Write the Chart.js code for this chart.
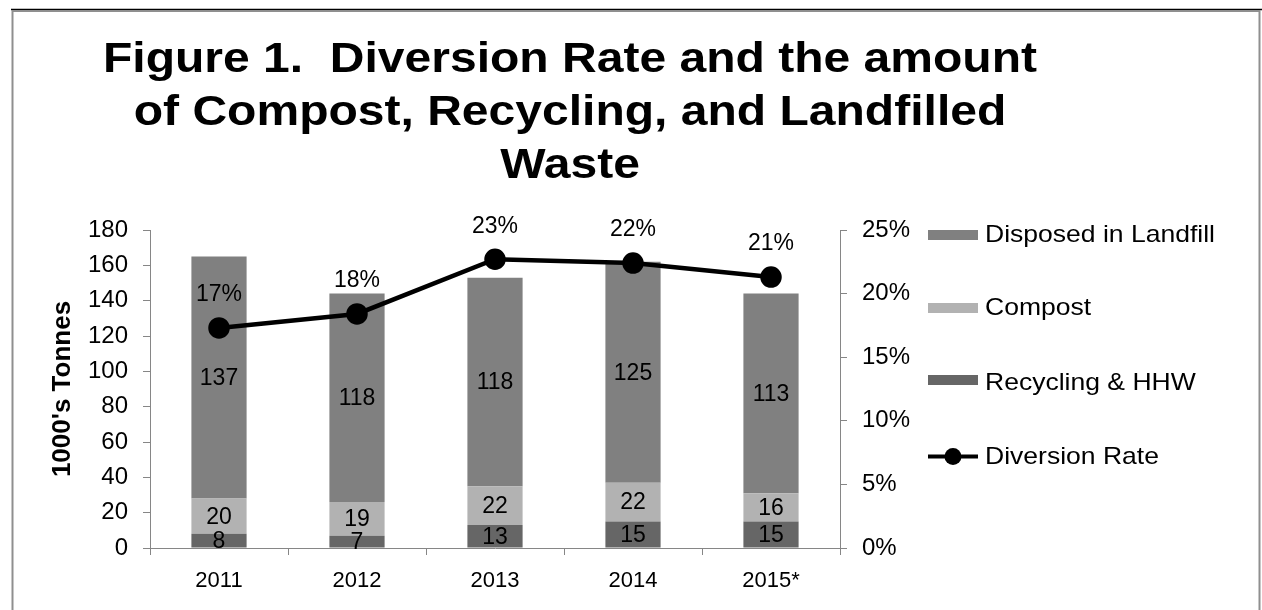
<!DOCTYPE html>
<html>
<head>
<meta charset="utf-8">
<script src="https://cdn.jsdelivr.net/npm/chart.js@4"></script>
<style>
    html, body { margin: 0; padding: 0; background: #fff; }
    #wrap { width: 1262px; height: 610px; position: relative; }
</style>
</head>
<body>
<div id="wrap"><canvas id="wasteChart" width="1262" height="610"></canvas></div>
<script>
// data
const years = ['2011', '2012', '2013', '2014', '2015*'];
const recycling = [8, 7, 13, 15, 15];
const compost = [20, 19, 22, 22, 16];
const landfill = [137, 118, 118, 125, 113];
const diversionRate = [17.3, 18.4, 22.7, 22.4, 21.3];
const tonnesTicks = [0, 20, 40, 60, 80, 100, 120, 140, 160, 180];
const percentTicks = [0, 5, 10, 15, 20, 25];

const titleLines = [
    'Figure 1.  Diversion Rate and the amount',
    'of Compost, Recycling, and Landfilled',
    'Waste'
];

const FONT = '"Liberation Sans", Arial, sans-serif';
const axisGray = '#868686';

// draw text squeezed/stretched horizontally around its anchor
function stretchedText(ctx, text, x, y, sx, align) {
    ctx.save();
    ctx.translate(x, y);
    ctx.scale(sx, 1);
    ctx.textAlign = align;
    ctx.fillText(text, 0, 0);
    ctx.restore();
}

// frame, title, data labels, legend
const decorPlugin = {
    id: 'decor',
    beforeDraw(chart) {
        const ctx = chart.ctx;
        ctx.save();
        ctx.strokeStyle = '#000';
        ctx.lineWidth = 1.5;
        ctx.beginPath();
        ctx.moveTo(11, 9.5);
        ctx.lineTo(1262, 9.5);
        ctx.stroke();
        ctx.strokeStyle = '#8f8f8f';
        ctx.lineWidth = 2;
        ctx.strokeRect(12.5, 11, 1247, 620);
        ctx.restore();
    },
    afterDatasetsDraw(chart) {
        const ctx = chart.ctx;
        ctx.save();
        ctx.fillStyle = '#000';
        ctx.textAlign = 'center';
        ctx.textBaseline = 'middle';
        ctx.font = '23px ' + FONT;
        chart.data.datasets.forEach((ds, i) => {
            const meta = chart.getDatasetMeta(i);
            meta.data.forEach((el, j) => {
                if (ds.type === 'line') {
                    ctx.fillText(Math.round(ds.data[j]) + '%', el.x, el.y - 33);
                } else {
                    const p = el.getProps(['x', 'y', 'base'], true);
                    ctx.fillText(String(ds.data[j]), p.x, (p.y + p.base) / 2 + 1);
                }
            });
        });
        ctx.restore();
    },
    afterDraw(chart) {
        const ctx = chart.ctx;
        ctx.save();
        // title
        ctx.fillStyle = '#000';
        ctx.textBaseline = 'alphabetic';
        ctx.font = 'bold 43px ' + FONT;
        const tScale = 934 / ctx.measureText(titleLines[0]).width;
        const baselines = [72, 125, 178];
        titleLines.forEach((t, i) => stretchedText(ctx, t, 570, baselines[i], tScale, 'center'));

        // legend
        const order = [3, 2, 1, 0];
        const markY = [235, 308, 380, 456.5];
        const textY = [241.5, 315, 389.5, 464];
        ctx.font = '24px ' + FONT;
        const lScale = 230 / ctx.measureText(chart.data.datasets[3].label).width;
        ctx.textBaseline = 'alphabetic';
        order.forEach((idx, r) => {
            const ds = chart.data.datasets[idx];
            const y = markY[r];
            if (ds.type === 'line') {
                ctx.strokeStyle = '#000';
                ctx.lineWidth = 4;
                ctx.beginPath();
                ctx.moveTo(928, y);
                ctx.lineTo(978, y);
                ctx.stroke();
                ctx.beginPath();
                ctx.arc(953, y, 8.5, 0, Math.PI * 2);
                ctx.fillStyle = '#000';
                ctx.fill();
            } else {
                ctx.fillStyle = ds.backgroundColor;
                ctx.fillRect(928, y - 5, 50, 10);
            }
            ctx.fillStyle = '#000';
            stretchedText(ctx, ds.label, 985, textY[r], lScale, 'left');
        });
        ctx.restore();
    }
};

document.addEventListener('DOMContentLoaded', () => {
    const ctx = document.getElementById('wasteChart').getContext('2d');

    new Chart(ctx, {
        data: {
            labels: years,
            datasets: [
                {
                    type: 'line',
                    label: 'Diversion Rate',
                    data: diversionRate,
                    yAxisID: 'y1',
                    borderColor: '#000',
                    backgroundColor: '#000',
                    borderWidth: 4.5,
                    pointRadius: 8.5,
                    pointBackgroundColor: '#000',
                    pointBorderColor: '#000',
                    tension: 0,
                    order: 0
                },
                {
                    type: 'bar',
                    label: 'Recycling & HHW',
                    data: recycling,
                    yAxisID: 'y',
                    backgroundColor: '#666666',
                    order: 1
                },
                {
                    type: 'bar',
                    label: 'Compost',
                    data: compost,
                    yAxisID: 'y',
                    backgroundColor: '#b2b2b2',
                    order: 1
                },
                {
                    type: 'bar',
                    label: 'Disposed in Landfill',
                    data: landfill,
                    yAxisID: 'y',
                    backgroundColor: '#808080',
                    order: 1
                }
            ]
        },
        options: {
            responsive: false,
            animation: false,
            layout: {
                padding: { top: 230, left: 0, right: 0, bottom: 0 }
            },
            datasets: {
                bar: { barPercentage: 1, categoryPercentage: 0.4 }
            },
            scales: {
                x: {
                    stacked: true,
                    afterFit: (s) => { s.height = 62; },
                    grid: {
                        drawOnChartArea: false,
                        drawTicks: true,
                        tickLength: 7,
                        color: axisGray
                    },
                    border: { display: true, color: axisGray, width: 1 },
                    ticks: {
                        color: '#000',
                        font: { family: FONT, size: 22 },
                        padding: 13,
                        maxRotation: 0,
                        autoSkip: false
                    }
                },
                y: {
                    stacked: true,
                    position: 'left',
                    min: tonnesTicks[0],
                    max: tonnesTicks[tonnesTicks.length - 1],
                    afterFit: (s) => { s.width = 150; },
                    afterBuildTicks: (s) => { s.ticks = tonnesTicks.map(v => ({ value: v })); },
                    grid: {
                        drawOnChartArea: false,
                        tickLength: 7,
                        color: axisGray
                    },
                    border: { display: true, color: axisGray, width: 1 },
                    ticks: {
                        color: '#000',
                        font: { family: FONT, size: 24 },
                        padding: 15
                    },
                    title: {
                        display: true,
                        text: "1000's Tonnes",
                        color: '#000',
                        font: { family: FONT, size: 26, weight: 'bold' },
                        padding: { top: 47, bottom: 0 }
                    }
                },
                y1: {
                    position: 'right',
                    min: percentTicks[0],
                    max: percentTicks[percentTicks.length - 1],
                    afterFit: (s) => { s.width = 422; },
                    afterBuildTicks: (s) => { s.ticks = percentTicks.map(v => ({ value: v })); },
                    grid: {
                        drawOnChartArea: false,
                        tickLength: 7,
                        color: axisGray
                    },
                    border: { display: true, color: axisGray, width: 1 },
                    ticks: {
                        color: '#000',
                        font: { family: FONT, size: 24 },
                        padding: 15,
                        callback: (v) => v + '%'
                    }
                }
            },
            plugins: {
                legend: { display: false },
                title: { display: false },
                tooltip: { enabled: false }
            }
        },
        plugins: [decorPlugin]
    });
});
</script>
</body>
</html>
